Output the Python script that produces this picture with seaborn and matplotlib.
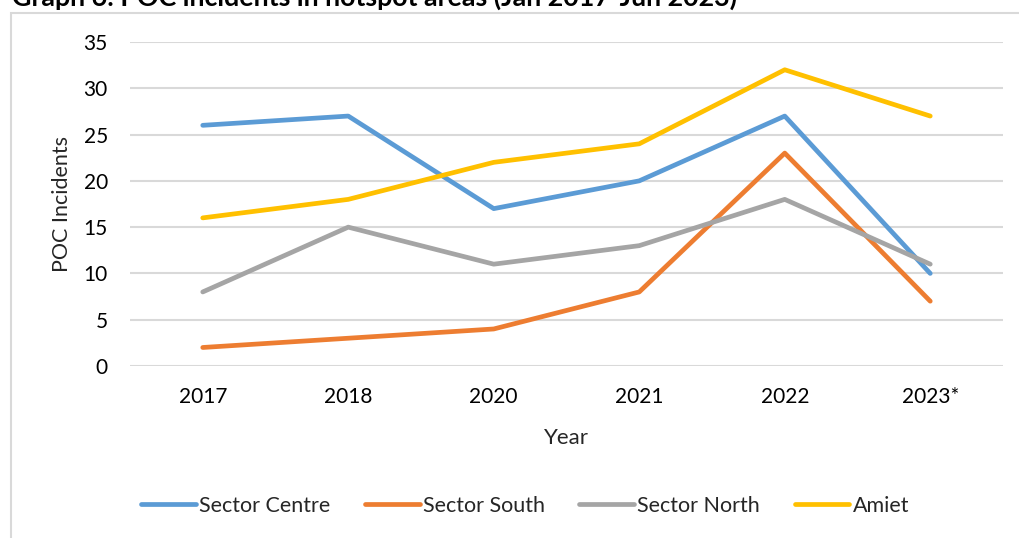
import matplotlib
matplotlib.use("Agg")
import matplotlib.pyplot as plt
import seaborn as sns
import pandas as pd
from matplotlib.patches import Rectangle

# Incident counts per year and area
years = ["2017", "2018", "2020", "2021", "2022", "2023*"]
sector_centre = [26, 27, 17, 20, 27, 10]
sector_south = [2, 3, 4, 8, 23, 7]
sector_north = [8, 15, 11, 13, 18, 11]
amiet = [16, 18, 22, 24, 32, 27]

series_names = ["Sector Centre", "Sector South", "Sector North", "Amiet"]
series_values = [sector_centre, sector_south, sector_north, amiet]
palette = ["#5B9BD5", "#ED7D31", "#A5A5A5", "#FFC000"]

rows = []
for name, vals in zip(series_names, series_values):
    for yr, v in zip(years, vals):
        rows.append({"Year": yr, "Incidents": v, "Area": name})
df = pd.DataFrame(rows)

sns.set_theme(style="white")
plt.rcParams["font.family"] = ["Lato", "DejaVu Sans"]

W, H = 1019, 538
fig = plt.figure(figsize=(W / 100, H / 100), dpi=100)

# outer chart frame
fig.patches.append(Rectangle((11 / W, -0.05), 1.2, 1 - 13 / H + 0.05,
                             transform=fig.transFigure, fill=False,
                             edgecolor="#D9D9D9", linewidth=1.5, zorder=0))

# title (top edge runs past the page)
fig.text(12 / W, 1 - 6 / H, "Graph 6: POC incidents in hotspot areas (Jan 2017-Jun 2023)",
         fontsize=19.3, fontweight="bold", ha="left", va="baseline", color="black")

ax = fig.add_axes([130 / W, 1 - 366 / H, 873 / W, 324 / H])
sns.lineplot(data=df, x="Year", y="Incidents", hue="Area", hue_order=series_names,
             palette=palette, linewidth=3.4, sort=False, ax=ax,
             solid_capstyle="round", legend=True)

ax.set_xlim(-0.5, len(years) - 0.5)
ax.set_ylim(0, 35)
ax.set_yticks(range(0, 36, 5))
ax.grid(axis="y", color="#D9D9D9", linewidth=1.5)
ax.grid(axis="x", visible=False)
ax.set_axisbelow(True)
for s in ax.spines.values():
    s.set_visible(False)
ax.tick_params(axis="both", length=0, labelsize=15, colors="#000000")
ax.tick_params(axis="y", pad=16)
ax.tick_params(axis="x", pad=15)
ax.set_xlabel("Year", fontsize=16, labelpad=15)
ax.set_ylabel("POC Incidents", fontsize=15.5, labelpad=8)

handles, labels = ax.get_legend_handles_labels()
ax.legend(handles, labels, loc="center", bbox_to_anchor=(525 / W, 1 - 506 / H),
          bbox_transform=fig.transFigure, ncol=4, frameon=False, fontsize=15.5,
          handlelength=2.55, handletextpad=0.15, columnspacing=1.6)

fig.savefig("out.png", dpi=100)
